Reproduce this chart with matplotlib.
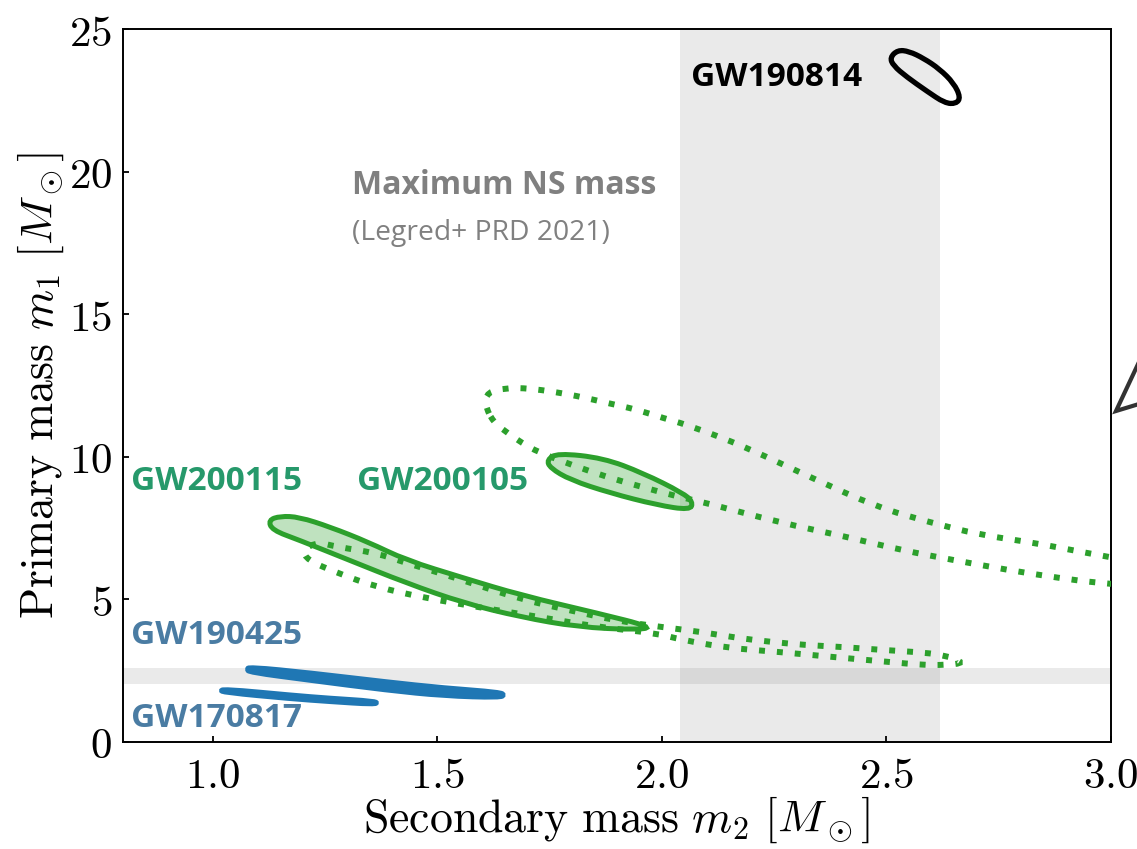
import numpy as np
import matplotlib
matplotlib.use("Agg")
import matplotlib.pyplot as plt
from matplotlib.path import Path
from matplotlib.patches import PathPatch
from matplotlib.lines import Line2D
from matplotlib.ticker import FuncFormatter

plt.rcParams['mathtext.fontset'] = 'cm'
plt.rcParams['font.family'] = ['DejaVu Serif']

# credible-region outlines in (m2, m1), solar masses
gw190814_m2 = [2.508, 2.525, 2.550, 2.583, 2.618, 2.650, 2.665, 2.655, 2.630, 2.590, 2.545, 2.515]
gw190814_m1 = [24.00, 24.26, 24.22, 23.97, 23.60, 23.10, 22.60, 22.38, 22.40, 22.82, 23.32, 23.72]

gw200105_m2 = [1.744, 1.767, 1.869, 1.958, 2.047, 2.069, 2.063, 1.989, 1.885, 1.796, 1.751]
gw200105_m1 = [9.89, 10.13, 9.96, 9.43, 8.73, 8.42, 8.13, 8.31, 8.73, 9.19, 9.61]

gw200105_wide_m2 = [1.606, 1.611, 1.655, 1.691, 1.733, 1.773, 1.811, 1.851, 1.889, 1.929,
                    1.967, 2.003, 2.041, 2.081, 2.118, 2.190, 2.334, 2.479, 2.595, 2.709,
                    2.831, 2.945, 3.08, 3.08, 2.969, 2.885, 2.771, 2.649, 2.533, 2.412,
                    2.259, 2.107, 2.029, 1.956, 1.878, 1.800, 1.724, 1.689, 1.657, 1.624]
gw200105_wide_m1 = [11.82, 12.27, 12.41, 12.41, 12.34, 12.24, 12.13, 11.99, 11.85, 11.71,
                    11.54, 11.36, 11.19, 10.97, 10.76, 10.31, 9.26, 8.24, 7.71, 7.26,
                    6.98, 6.63, 6.25, 5.45, 5.58, 5.75, 6.03, 6.38, 6.73, 7.19,
                    7.71, 8.35, 8.63, 8.94, 9.29, 9.71, 10.17, 10.48, 10.83, 11.22]

gw200115_m2 = [1.124, 1.150, 1.192, 1.261, 1.346, 1.430, 1.559, 1.686, 1.856, 1.980,
               1.943, 1.813, 1.686, 1.559, 1.430, 1.303, 1.192, 1.132]
gw200115_m1 = [7.78, 7.92, 7.89, 7.54, 7.01, 6.38, 5.75, 5.15, 4.52, 4.03,
               3.93, 4.03, 4.38, 4.87, 5.58, 6.38, 7.08, 7.43]

gw200115_wide_m2 = [1.234, 1.277, 1.363, 1.430, 1.542, 1.686, 1.800, 1.900, 2.000, 2.092,
                    2.167, 2.243, 2.319, 2.404, 2.488, 2.564, 2.630, 2.675, 2.630, 2.580,
                    2.504, 2.381, 2.259, 2.145, 2.045, 1.985, 1.858, 1.729, 1.602, 1.473,
                    1.363, 1.277, 1.210, 1.200]
gw200115_wide_m1 = [7.01, 6.84, 6.63, 6.28, 5.75, 5.00, 4.60, 4.25, 4.03, 3.85,
                    3.65, 3.51, 3.40, 3.33, 3.23, 3.16, 3.05, 2.77, 2.70, 2.70,
                    2.81, 2.98, 3.16, 3.30, 3.58, 3.82, 4.03, 4.38, 4.70, 5.05,
                    5.44, 5.93, 6.38, 6.75]

gw190425_m2 = [1.075, 1.081, 1.216, 1.388, 1.515, 1.640, 1.650, 1.640, 1.515, 1.388, 1.216, 1.081]
gw190425_m1 = [2.55, 2.65, 2.44, 2.12, 1.91, 1.76, 1.65, 1.54, 1.60, 1.80, 2.15, 2.43]

gw170817_m2 = [1.015, 1.025, 1.174, 1.261, 1.360, 1.368, 1.360, 1.261, 1.174, 1.025]
gw170817_m1 = [1.80, 1.89, 1.67, 1.56, 1.46, 1.375, 1.29, 1.39, 1.49, 1.71]

# maximum neutron-star mass band and low-mass m1 band
ns_max_lo, ns_max_hi = 2.04, 2.62
m1_band_lo, m1_band_hi = 2.05, 2.60

x_ticks = [1.0, 1.5, 2.0, 2.5, 3.0]
y_ticks = [0, 5, 10, 15, 20, 25]

GREEN = '#2ca02c'
BLUE = '#1f77b4'
LABEL_GREEN = '#26996b'
LABEL_BLUE = '#4a7ca3'
GREY = '#808080'


def smooth_closed(xs, ys):
    # quadratic B-spline through the outline vertices, drawn by Path itself
    pts = np.column_stack([xs, ys])
    mids = (pts + np.roll(pts, -1, axis=0)) / 2
    verts = [mids[-1]]
    codes = [Path.MOVETO]
    for i in range(len(pts)):
        verts += [pts[i], mids[i]]
        codes += [Path.CURVE3, Path.CURVE3]
    verts.append(mids[-1])
    codes.append(Path.CLOSEPOLY)
    return Path(verts, codes)


def add_contour(ax, xs, ys, **kw):
    ax.add_patch(PathPatch(smooth_closed(xs, ys), **kw))


fig = plt.figure(figsize=(11.37, 8.49), dpi=100)
ax = fig.add_axes([123 / 1137, 107 / 849, 988 / 1137, 713 / 849])

ax.axvspan(ns_max_lo, ns_max_hi, color=GREY, alpha=0.16, lw=0, zorder=0)
ax.axhspan(m1_band_lo, m1_band_hi, color=GREY, alpha=0.16, lw=0, zorder=0)

dotted = (0, (1, 2))
add_contour(ax, gw200105_wide_m2, gw200105_wide_m1, facecolor='none', edgecolor=GREEN,
            lw=4.3, linestyle=dotted, zorder=3)
add_contour(ax, gw200115_wide_m2, gw200115_wide_m1, facecolor='none', edgecolor=GREEN,
            lw=4.3, linestyle=dotted, zorder=3)
add_contour(ax, gw200105_m2, gw200105_m1, facecolor=(0.17, 0.63, 0.17, 0.3),
            edgecolor=GREEN, lw=3.6, zorder=2)
add_contour(ax, gw200115_m2, gw200115_m1, facecolor=(0.17, 0.63, 0.17, 0.3),
            edgecolor=GREEN, lw=3.6, zorder=2)
add_contour(ax, gw190814_m2, gw190814_m1, facecolor='none', edgecolor='black',
            lw=3.8, zorder=3)
add_contour(ax, gw190425_m2, gw190425_m1, facecolor=BLUE, edgecolor=BLUE, lw=3.0, zorder=3)
add_contour(ax, gw170817_m2, gw170817_m1, facecolor=BLUE, edgecolor=BLUE, lw=2.5, zorder=3)

label_font = dict(family=['Open Sans', 'DejaVu Sans'], fontweight='bold', fontsize=24,
                  va='center', ha='left', zorder=5)
ax.text(2.065, 23.3, 'GW190814', color='black', **label_font)
ax.text(0.818, 9.15, 'GW200115', color=LABEL_GREEN, **label_font)
ax.text(1.321, 9.15, 'GW200105', color=LABEL_GREEN, **label_font)
ax.text(0.818, 3.72, 'GW190425', color=LABEL_BLUE, **label_font)
ax.text(0.818, 0.84, 'GW170817', color=LABEL_BLUE, **label_font)
ax.text(1.310, 19.5, 'Maximum NS mass', color=GREY, **dict(label_font, fontsize=23))
ax.text(1.310, 17.85, '(Legred+ PRD 2021)', color=GREY, family=['Open Sans', 'DejaVu Sans'],
        fontsize=20.3, va='center', ha='left', zorder=5)

ax.set_xlim(0.8, 3.0)
ax.set_ylim(0, 25)
ax.set_xticks(x_ticks)
ax.set_yticks(y_ticks)
ax.xaxis.set_major_formatter(FuncFormatter(lambda v, p: r'$%.1f$' % v))
ax.yaxis.set_major_formatter(FuncFormatter(lambda v, p: r'$%d$' % v))
ax.tick_params(direction='in', length=4.3, width=1.3, labelsize=31, pad=8,
               top=False, right=False)
ax.tick_params(axis='x', pad=9)
for spine in ax.spines.values():
    spine.set_linewidth(1.4)

ax.set_xlabel(r'$\mathrm{Secondary\ mass}\ m_2\ [M_\odot]$', fontsize=33)
ax.set_ylabel(r'$\mathrm{Primary\ mass}\ m_1\ [M_\odot]$', fontsize=33)
ax.xaxis.set_label_coords(0.5, -0.074)
ax.yaxis.set_label_coords(-0.058, 0.5)

# edge of an arrow from the neighbouring panel
fig.add_artist(Line2D([1139 / 1137, 1116 / 1137, 1139 / 1137],
                      [1 - 362 / 849, 1 - 411 / 849, 1 - 404 / 849],
                      transform=fig.transFigure, color='#333333', lw=3,
                      solid_joinstyle='miter'))

fig.savefig('out.png', dpi=100)
